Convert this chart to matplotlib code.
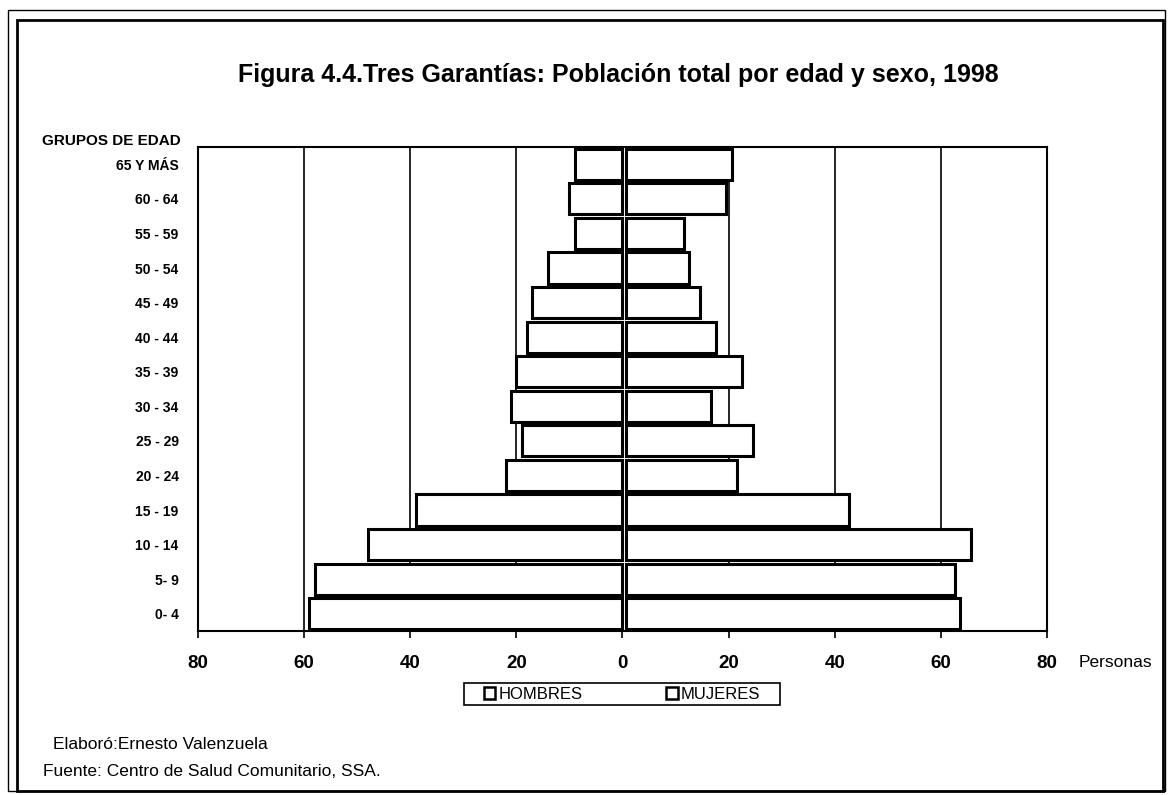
import numpy as np
import matplotlib.pyplot as plt
from matplotlib.patches import Patch, Rectangle

plt.rcParams['font.family'] = ['Liberation Sans', 'DejaVu Sans']

grupos = ['0- 4', '5- 9', '10 - 14', '15 - 19', '20 - 24', '25 - 29', '30 - 34',
          '35 - 39', '40 - 44', '45 - 49', '50 - 54', '55 - 59', '60 - 64', '65 Y MÁS']
hombres = [59, 58, 48, 39, 22, 19, 21, 20, 18, 17, 14, 9, 10, 9]
mujeres = [63, 62, 65, 42, 21, 24, 16, 22, 17, 14, 12, 11, 19, 20]
ticks = [-80, -60, -40, -20, 0, 20, 40, 60, 80]

fig = plt.figure(figsize=(11.68, 7.95), dpi=100)
ax = fig.add_axes([0.1695, 0.2063, 0.7269, 0.6087])

y = np.arange(len(grupos))
ax.barh(y, -np.array(hombres), height=0.9, color='white', edgecolor='black', linewidth=2.2, zorder=3)
ax.barh(y, mujeres, left=0.6, height=0.9, color='white', edgecolor='black', linewidth=2.2, zorder=3)

ax.set_xlim(-80, 80)
ax.set_ylim(-0.5, len(grupos) - 0.5)
ax.set_xticks(ticks)
ax.set_xticklabels([str(abs(t)) for t in ticks], fontsize=13.5, fontweight='bold')
ax.set_yticks(y)
ax.set_yticklabels(grupos, fontsize=10, fontweight='bold')
ax.tick_params(axis='y', length=0, pad=14)
ax.tick_params(axis='x', direction='out', length=5, width=1.2, pad=12)
for t in [-60, -40, -20, 20, 40, 60]:
    ax.axvline(t, color='black', linewidth=1.2, zorder=1)
for s in ax.spines.values():
    s.set_linewidth(1.5)

ax.text(1.037, -0.066, 'Personas', transform=ax.transAxes, fontsize=12.5, va='center', ha='left')

fig.text(0.529, 0.906, 'Figura 4.4.Tres Garantías: Población total por edad y sexo, 1998',
         ha='center', va='center', fontsize=18, fontweight='bold')
fig.text(0.036, 0.823, 'GRUPOS DE EDAD', fontsize=11, fontweight='bold', va='center')

# leyenda con su recuadro propio
leg = fig.legend(handles=[Patch(facecolor='white', edgecolor='black', linewidth=1.8, label='HOMBRES'),
                          Patch(facecolor='white', edgecolor='black', linewidth=1.8, label='MUJERES')],
                 loc='center', bbox_to_anchor=(0.5325, 0.1265), ncol=2, fontsize=12,
                 handlelength=0.7, handleheight=0.7, handletextpad=0.2, columnspacing=5.0,
                 borderpad=0, borderaxespad=0, frameon=False)
fig.add_artist(Rectangle((464 / 1168, 1 - 705 / 795), 316 / 1168, 22 / 795, transform=fig.transFigure,
                         fill=False, edgecolor='black', linewidth=1.2))

fig.text(0.045, 0.063, 'Elaboró:Ernesto Valenzuela', fontsize=12.5, va='center')
fig.text(0.037, 0.030, 'Fuente: Centro de Salud Comunitario, SSA.', fontsize=12.5, va='center')

# marco exterior doble
fig.add_artist(Rectangle((0.0068, 0.005), 0.991, 0.982, transform=fig.transFigure,
                         fill=False, edgecolor='black', linewidth=1.0))
fig.add_artist(Rectangle((0.0146, 0.005), 0.981, 0.970, transform=fig.transFigure,
                         fill=False, edgecolor='black', linewidth=2.0))

fig.savefig('out.png', dpi=100)
